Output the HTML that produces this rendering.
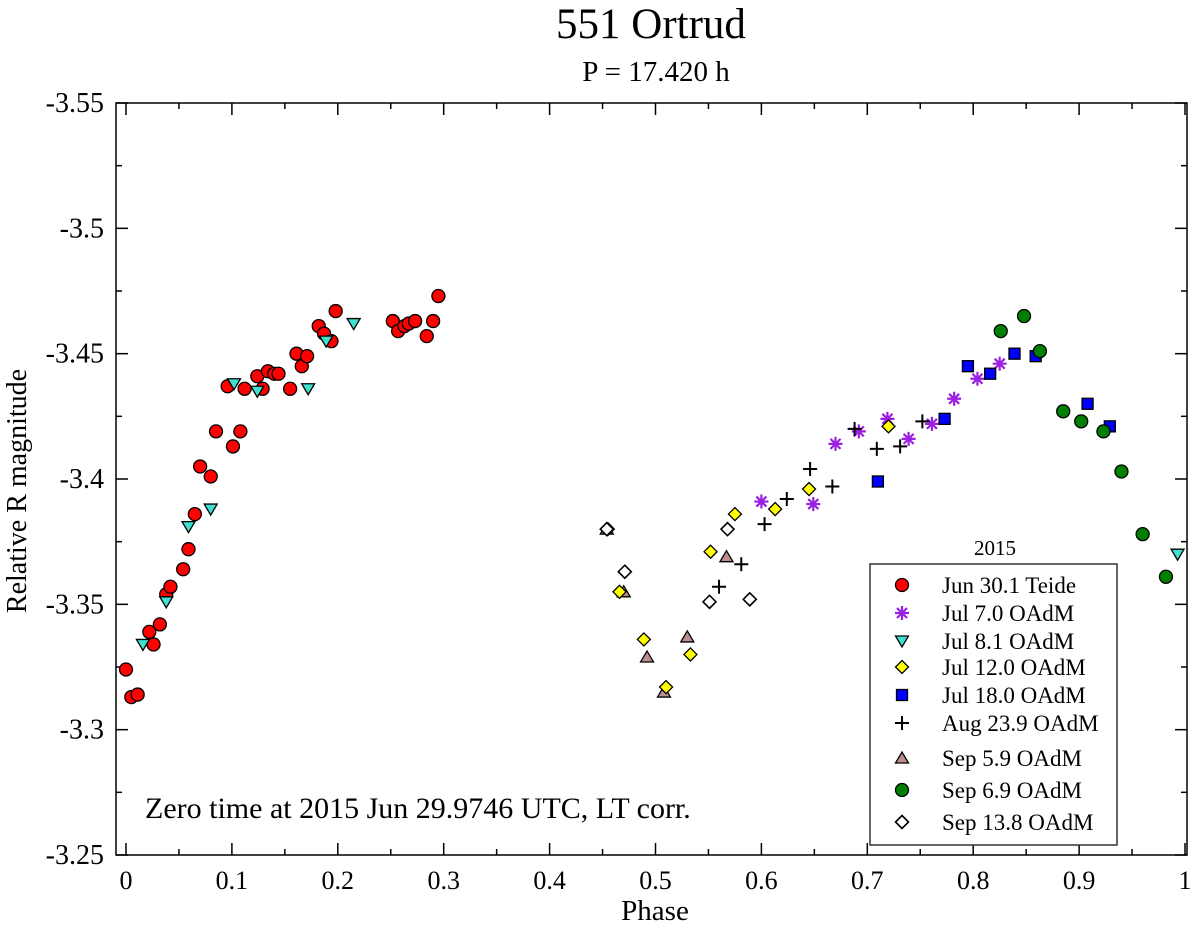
<!DOCTYPE html>
<html><head><meta charset="utf-8"><style>
body{margin:0;background:#fff;}
svg text{font-family:"Liberation Serif",serif;fill:#000;}
</style></head><body>
<svg id="chart" width="1200" height="925" xmlns="http://www.w3.org/2000/svg">
<text x="651" y="38" font-size="43" text-anchor="middle">551 Ortrud</text>
<text x="656" y="81" font-size="29" text-anchor="middle">P = 17.420 h</text>
<rect x="116" y="103" width="1071" height="752" fill="none" stroke="#000" stroke-width="1.5"/>
<g id="ticks"></g>
<g id="marks"></g>
<text x="655" y="920" font-size="29" text-anchor="middle">Phase</text>
<text transform="translate(26,491) rotate(-90)" font-size="28" text-anchor="middle">Relative R magnitude</text>
<text x="145" y="818" font-size="30">Zero time at 2015 Jun 29.9746 UTC, LT corr.</text>
<text x="995" y="555" font-size="21" text-anchor="middle">2015</text>
<rect x="870" y="564" width="247" height="281" fill="#fff" stroke="#333" stroke-width="1.5"/>
<g id="legend"></g>
</svg>
<script>
const xTicks=[0,0.1,0.2,0.3,0.4,0.5,0.6,0.7,0.8,0.9,1];
const xTickLabels=["0","0.1","0.2","0.3","0.4","0.5","0.6","0.7","0.8","0.9","1"];
const yTicks=[-3.55,-3.5,-3.45,-3.4,-3.35,-3.3,-3.25];
const yTickLabels=["-3.55","-3.5","-3.45","-3.4","-3.35","-3.3","-3.25"];
const seriesNames=["Jun 30.1 Teide","Jul 7.0 OAdM","Jul 8.1 OAdM","Jul 12.0 OAdM","Jul 18.0 OAdM","Aug 23.9 OAdM","Sep 5.9 OAdM","Sep 6.9 OAdM","Sep 13.8 OAdM"];
const jun30X=[0.000,0.005,0.011,0.022,0.026,0.032,0.038,0.042,0.054,0.059,0.065,0.070,0.080,0.085,0.101,0.108,0.096,0.112,0.124,0.129,0.134,0.140,0.144,0.155,0.161,0.166,0.171,0.182,0.187,0.194,0.198,0.252,0.257,0.263,0.267,0.273,0.284,0.290,0.295];
const jun30Y=[-3.324,-3.313,-3.314,-3.339,-3.334,-3.342,-3.354,-3.357,-3.364,-3.372,-3.386,-3.405,-3.401,-3.419,-3.413,-3.419,-3.437,-3.436,-3.441,-3.436,-3.443,-3.442,-3.442,-3.436,-3.450,-3.445,-3.449,-3.461,-3.458,-3.455,-3.467,-3.463,-3.459,-3.461,-3.462,-3.463,-3.457,-3.463,-3.473];
const jul7X=[0.600,0.649,0.670,0.692,0.719,0.739,0.761,0.782,0.804,0.825];
const jul7Y=[-3.391,-3.390,-3.414,-3.419,-3.424,-3.416,-3.422,-3.432,-3.440,-3.446];
const jul8X=[0.016,0.038,0.059,0.080,0.102,0.124,0.172,0.189,0.215,0.993];
const jul8Y=[-3.334,-3.351,-3.381,-3.388,-3.438,-3.435,-3.436,-3.455,-3.462,-3.370];
const jul12X=[0.455,0.466,0.489,0.510,0.533,0.552,0.575,0.613,0.645,0.720];
const jul12Y=[-3.380,-3.355,-3.336,-3.317,-3.330,-3.371,-3.386,-3.388,-3.396,-3.421];
const jul18X=[0.710,0.773,0.795,0.816,0.839,0.859,0.908,0.929];
const jul18Y=[-3.399,-3.424,-3.445,-3.442,-3.450,-3.449,-3.430,-3.421];
const aug23X=[0.688,0.709,0.731,0.752,0.646,0.667,0.624,0.603,0.581,0.560];
const aug23Y=[-3.420,-3.412,-3.413,-3.423,-3.404,-3.397,-3.392,-3.382,-3.366,-3.357];
const sep5X=[0.454,0.470,0.492,0.508,0.530,0.567];
const sep5Y=[-3.380,-3.355,-3.329,-3.315,-3.337,-3.369];
const sep6X=[0.826,0.848,0.863,0.885,0.902,0.923,0.940,0.960,0.982];
const sep6Y=[-3.459,-3.465,-3.451,-3.427,-3.423,-3.419,-3.403,-3.378,-3.361];
const sep13X=[0.454,0.471,0.551,0.568,0.589];
const sep13Y=[-3.380,-3.363,-3.351,-3.380,-3.352];

const NS="http://www.w3.org/2000/svg";
function sx(v){return 126+v*1059;}
function sy(v){return 103+(v+3.55)/0.3*752;}
function mk(tag,attrs,parent){const e=document.createElementNS(NS,tag);for(const k in attrs)e.setAttribute(k,attrs[k]);parent.appendChild(e);return e;}
const T=document.getElementById('ticks');
xTicks.forEach((t,i)=>{
  const x=sx(t);
  let l=mk('line',{x1:x,y1:855,x2:x,y2:843,stroke:'#000','stroke-width':1.5},T);
  
  
  let l2=mk('line',{x1:x,y1:103,x2:x,y2:115,stroke:'#000','stroke-width':1.5},T);
  
  
  if(i<xTicks.length-1){const m=sx(t+0.05);
    let a=mk('line',{x1:m,y1:855,x2:m,y2:849,stroke:'#000','stroke-width':1.5},T);
    
    
    let b=mk('line',{x1:m,y1:103,x2:m,y2:109,stroke:'#000','stroke-width':1.5},T);
    
    }
  const tx=mk('text',{x:x,y:889,'font-size':26,'text-anchor':'middle'},T);
  tx.textContent=xTickLabels[i];
  
  
});
yTicks.forEach((t,i)=>{
  const y=sy(t);
  let l=mk('line',{x1:116,y1:y,x2:128,y2:y,stroke:'#000','stroke-width':1.5},T);
  
  
  let l2=mk('line',{x1:1175,y1:y,x2:1187,y2:y,stroke:'#000','stroke-width':1.5},T);
  
  
  if(i<yTicks.length-1){const m=sy(t+0.025);
    let a=mk('line',{x1:116,y1:m,x2:122,y2:m,stroke:'#000','stroke-width':1.5},T);
    
    
    let b=mk('line',{x1:1181,y1:m,x2:1187,y2:m,stroke:'#000','stroke-width':1.5},T);
    
    }
  const tx=mk('text',{x:104,y:y+9,'font-size':28,'text-anchor':'end'},T);
  tx.textContent=yTickLabels[i];
  
  
});
function sym(kind,x,y,g){
  let e;
  if(kind==='circle')e=mk('circle',{cx:x,cy:y,r:6.5,fill:'#ff0000',stroke:'#000','stroke-width':1.3},g);
  else if(kind==='gcircle')e=mk('circle',{cx:x,cy:y,r:6.5,fill:'#008000',stroke:'#000','stroke-width':1.3},g);
  else if(kind==='star'){e=mk('path',{d:`M${x-7},${y}H${x+7}M${x},${y-7}V${y+7}M${x-5},${y-5}L${x+5},${y+5}M${x-5},${y+5}L${x+5},${y-5}`,stroke:'#9a1fe0','stroke-width':2.2,fill:'none'},g);}
  else if(kind==='tdown')e=mk('path',{d:`M${x-6.5},${y-5}H${x+6.5}L${x},${y+6}Z`,fill:'#40e0d0',stroke:'#000','stroke-width':1.3},g);
  else if(kind==='tup')e=mk('path',{d:`M${x-6.5},${y+5}H${x+6.5}L${x},${y-6}Z`,fill:'#bc8f8f',stroke:'#000','stroke-width':1.3},g);
  else if(kind==='ydia')e=mk('path',{d:`M${x},${y-6.5}L${x+6.5},${y}L${x},${y+6.5}L${x-6.5},${y}Z`,fill:'#ffff00',stroke:'#000','stroke-width':1.3},g);
  else if(kind==='wdia')e=mk('path',{d:`M${x},${y-6.5}L${x+6.5},${y}L${x},${y+6.5}L${x-6.5},${y}Z`,fill:'#fff',stroke:'#000','stroke-width':1.6},g);
  else if(kind==='square')e=mk('rect',{x:x-5.5,y:y-5.5,width:11,height:11,fill:'#0000ff',stroke:'#000','stroke-width':1.3},g);
  else if(kind==='plus')e=mk('path',{d:`M${x-7},${y}H${x+7}M${x},${y-7}V${y+7}`,stroke:'#000','stroke-width':2,fill:'none'},g);
  return e;
}
const series=[
 ['circle',jun30X,jun30Y,'jun30-point'],
 ['tdown',jul8X,jul8Y,'jul8-point'],
 ['star',jul7X,jul7Y,'jul7-point'],
 ['square',jul18X,jul18Y,'jul18-point'],
 ['gcircle',sep6X,sep6Y,'sep6-point'],
 ['plus',aug23X,aug23Y,'aug23-point'],
 ['tup',sep5X,sep5Y,'sep5-point'],
 ['ydia',jul12X,jul12Y,'jul12-point'],
 ['wdia',sep13X,sep13Y,'sep13-point']
];
const M=document.getElementById('marks');
series.forEach(s=>{
  s[1].forEach((xv,i)=>{
    const e=sym(s[0],sx(xv),sy(s[2][i]),M);
    
    
  });
});
const legKinds=['circle','star','tdown','ydia','square','plus','tup','gcircle','wdia'];
const legY=[585,613,641,667,695,723,758,790,822];
const L=document.getElementById('legend');
seriesNames.forEach((n,i)=>{
  const e=sym(legKinds[i],902,legY[i],L);
  
  
  const t=mk('text',{x:942,y:legY[i]+8,'font-size':23},L);
  t.textContent=n;
  
  
});
</script>
</body></html>
